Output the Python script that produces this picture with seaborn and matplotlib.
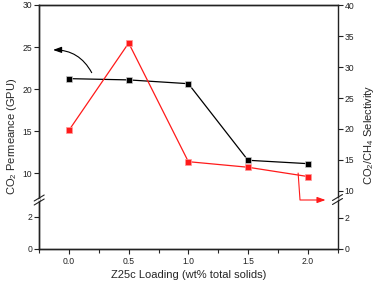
import matplotlib
matplotlib.use("Agg")
import matplotlib.pyplot as plt
import seaborn as sns
import numpy as np
import pandas as pd

# ---- data ----
loading = [0.0, 0.5, 1.0, 1.5, 2.0]
permeance = [21.25, 21.1, 20.65, 11.55, 11.15]
selectivity = [19.8, 33.9, 14.7, 13.8, 12.3]
x_ticks = [0.0, 0.5, 1.0, 1.5, 2.0]
left_top_ticks = [10, 15, 20, 25, 30]
left_bot_ticks = [0, 2]
right_top_ticks = [10, 15, 20, 25, 30, 35, 40]
right_bot_ticks = [0, 2]

sns.set_style("ticks")
plt.rcParams['font.family'] = ['Liberation Sans', 'DejaVu Sans']
plt.rcParams['mathtext.fontset'] = 'custom'
plt.rcParams['mathtext.rm'] = 'Liberation Sans'
plt.rcParams['mathtext.it'] = 'Liberation Sans'

W, H = 380, 286
fig = plt.figure(figsize=(W/100, H/100), dpi=100)

L, R = 39.2, 337.5
TOP, BRK, BOT = 5, 200, 249
def fx(p): return p / W
def fy(p): return (H - p) / H

ax_top = fig.add_axes([fx(L), fy(BRK), fx(R - L), fy(TOP) - fy(BRK)])
ax_bot = fig.add_axes([fx(L), fy(BOT), fx(R - L), fy(BRK) - fy(BOT)], sharex=ax_top)
axr_top = ax_top.twinx()
axr_bot = ax_bot.twinx()

df = pd.DataFrame({"loading": loading, "permeance": permeance, "selectivity": selectivity})

sns.lineplot(data=df, x="loading", y="permeance", ax=ax_top, color="black",
             marker="s", markersize=5, markeredgecolor="#cccccc", markeredgewidth=0.5,
             linewidth=0.9)
sns.lineplot(data=df, x="loading", y="selectivity", ax=axr_top, color="#ff1a1a",
             marker="s", markersize=5, markeredgecolor="#ff9999", markeredgewidth=0.5,
             linewidth=0.9)

ax_top.set_xlim(-0.25, 2.25)
ax_top.set_ylim(6.83, 30)
ax_bot.set_ylim(0, 3.06)
axr_top.set_ylim(8.5, 40.05)
axr_bot.set_ylim(0, 3.16)

ax_top.set_yticks(left_top_ticks)
ax_bot.set_yticks(left_bot_ticks)
axr_top.set_yticks(right_top_ticks)
axr_bot.set_yticks(right_bot_ticks)
ax_bot.set_xticks(x_ticks)
ax_bot.set_xticks(np.arange(-0.25, 2.26, 0.25), minor=True)
ax_bot.set_xticklabels([f"{v:.1f}" for v in x_ticks])

for a in (ax_top, ax_bot, axr_top, axr_bot):
    a.set_xlabel("")
    a.set_ylabel("")
    a.tick_params(direction="out", length=3.5, width=0.8, labelsize=6.2, pad=1.5, colors="#222222")
    a.tick_params(which="minor", direction="out", length=3, width=0.8)
    for s in a.spines.values():
        s.set_linewidth(1.0)
        s.set_color("#222222")
    a.patch.set_visible(False)

for a in (ax_top, axr_top):
    a.spines["bottom"].set_visible(False)
    a.tick_params(axis="x", which="both", bottom=False, labelbottom=False)
    a.spines["top"].set_visible(True)
for a in (ax_bot, axr_bot):
    a.spines["top"].set_visible(False)
for a in (ax_top, ax_bot):
    a.spines["right"].set_visible(False)
for a in (axr_top, axr_bot):
    a.spines["right"].set_visible(True)
    a.tick_params(axis="x", which="both", bottom=False, top=False)

ax_bot.tick_params(axis="x", which="both", pad=2.5)

# labels
ax_bot.set_xlabel("Z25c Loading (wt% total solids)", fontsize=8, labelpad=3)
fig.text(fx(12), fy(136), "CO$_2$ Permeance (GPU)", rotation=90, ha="center", va="center", fontsize=8)
fig.text(fx(369), fy(135), "CO$_2$/CH$_4$ Selectivity", rotation=90, ha="center", va="center", fontsize=8)

# break marks
def brk(xp, yp):
    for dy in (-2.0, 2.0):
        fig.add_artist(plt.Line2D([fx(xp - 5), fx(xp + 5)], [fy(yp + dy + 3), fy(yp + dy - 3)],
                                  color="#222222", lw=0.8))
    fig.add_artist(plt.Polygon([[fx(xp - 1), fy(yp + 1.6)], [fx(xp + 1), fy(yp + 0.4)],
                                [fx(xp + 1), fy(yp - 1.6)], [fx(xp - 1), fy(yp - 0.4)]],
                               closed=True, color="white", lw=0))
brk(L, 200)
brk(R, 199.5)

# annotations (arrows)
ax_top.annotate("", xy=(-0.134, 24.66), xytext=(0.19, 21.96),
                arrowprops=dict(arrowstyle="-|>,head_length=0.5,head_width=0.18",
                                connectionstyle="arc3,rad=0.3", color="black", lw=0.8,
                                shrinkA=0, shrinkB=0))
axr_top.annotate("", xy=(2.15, 0.0), xycoords=("data", "axes fraction"),
                 xytext=(1.92, 12.86), textcoords="data",
                 arrowprops=dict(arrowstyle="-|>,head_length=0.5,head_width=0.18",
                                 connectionstyle="angle,angleA=-86,angleB=0,rad=0",
                                 color="#ff1a1a", lw=0.8, shrinkA=0, shrinkB=0))

fig.savefig("out.png", dpi=100)
